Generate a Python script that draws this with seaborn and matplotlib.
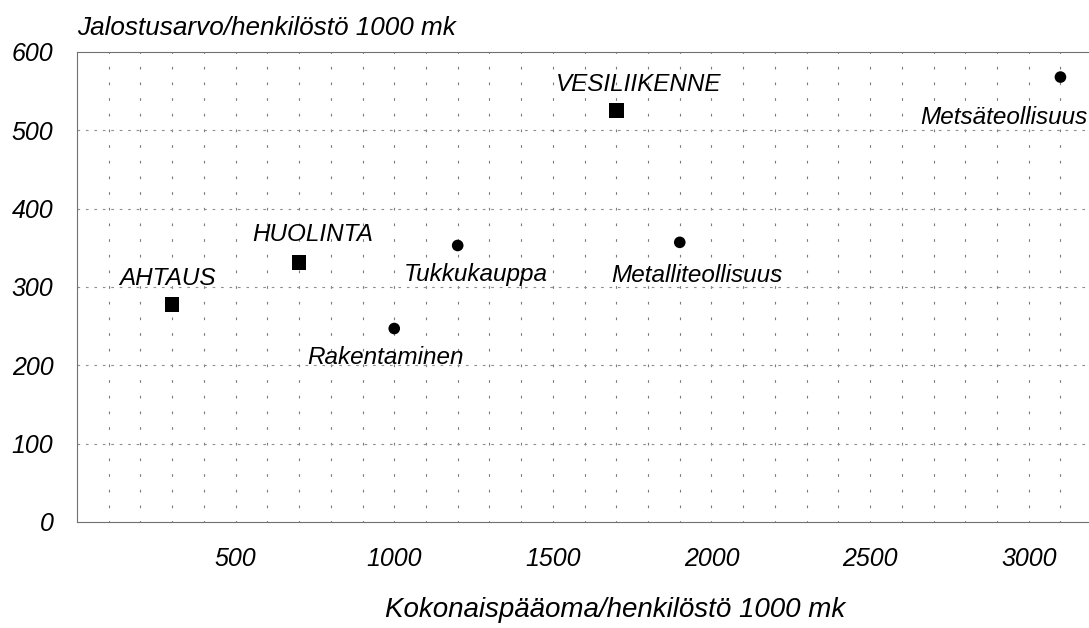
import numpy as np
import pandas as pd
import matplotlib
matplotlib.use('Agg')
import matplotlib.pyplot as plt
import seaborn as sns

# data
sectors = ['AHTAUS', 'HUOLINTA', 'VESILIIKENNE', 'Rakentaminen',
           'Tukkukauppa', 'Metalliteollisuus', 'Metsäteollisuus']
capital = [300, 700, 1700, 1000, 1200, 1900, 3100]
value_added = [278, 331, 525, 247, 353, 357, 568]
kind = ['transport', 'transport', 'transport', 'industry',
        'industry', 'industry', 'industry']

y_ticks = [0, 100, 200, 300, 400, 500, 600]
x_ticks = [500, 1000, 1500, 2000, 2500, 3000]

# label placement relative to the marker, in pixels (dx, dy, align)
label_offsets = {
    'AHTAUS': (-5, 26, 'center'),
    'HUOLINTA': (14, 28, 'center'),
    'VESILIIKENNE': (22, 26, 'center'),
    'Rakentaminen': (-9, -29, 'center'),
    'Tukkukauppa': (18, -29, 'center'),
    'Metalliteollisuus': (17, -33, 'center'),
    'Metsäteollisuus': (27, -40, 'right'),
}


def scatter_chart():
    df = pd.DataFrame({'sector': sectors, 'capital': capital,
                       'value': value_added, 'kind': kind})

    sns.set_theme(style='white')
    plt.rcParams['font.family'] = ['Liberation Sans', 'DejaVu Sans']
    plt.rcParams['font.style'] = 'italic'
    plt.rcParams['text.color'] = 'black'
    plt.rcParams['axes.labelcolor'] = 'black'

    fig = plt.figure(figsize=(10.89, 6.28), dpi=100)
    ax = fig.add_axes([0.0707, 0.1688, 0.9293, 0.7484])

    sns.scatterplot(data=df, x='capital', y='value', style='kind',
                    markers={'transport': 's', 'industry': 'o'},
                    size='kind', sizes={'transport': 110, 'industry': 70},
                    color='black', edgecolor='none', legend=False,
                    zorder=3, ax=ax)

    ax.set_xlim(0, 3190)
    ax.set_ylim(0, 600)

    # dotted vertical grid every 100, dashed horizontal grid every 100
    for xv in range(100, 3200, 100):
        ax.axvline(xv, color='#7a7a7a', lw=0.8,
                   linestyle=(1.2, (2.4, 11.7)), zorder=1)
    for yv in range(100, 600, 100):
        ax.axhline(yv, color='#8f8f8f', lw=0.8,
                   linestyle=(0, (2.4, 5.2)), zorder=1)

    ax.set_xticks(x_ticks)
    ax.set_yticks(y_ticks)
    ax.tick_params(axis='both', length=0, labelsize=18, colors='black')
    ax.tick_params(axis='y', pad=17)
    ax.tick_params(axis='x', pad=18)

    for side in ['left', 'top', 'bottom']:
        ax.spines[side].set_color('#707070')
        ax.spines[side].set_linewidth(0.8)
    ax.spines['right'].set_visible(False)

    for name, xv, yv in zip(sectors, capital, value_added):
        dx, dy, ha = label_offsets[name]
        ax.annotate(name, (xv, yv), xytext=(dx, dy),
                    textcoords='offset pixels', ha=ha, va='center',
                    fontsize=17.5, color='black', zorder=4)

    ax.set_xlabel('Kokonaispääoma/henkilöstö 1000 mk', fontsize=20,
                  color='black')
    ax.xaxis.set_label_coords(0.532, -0.16)
    ax.set_ylabel('')
    fig.text(0.0707, 0.955, 'Jalostusarvo/henkilöstö 1000 mk',
             fontsize=18.8, ha='left', va='center', color='black')

    fig.savefig('out.png', dpi=100)


if __name__ == '__main__':
    scatter_chart()
